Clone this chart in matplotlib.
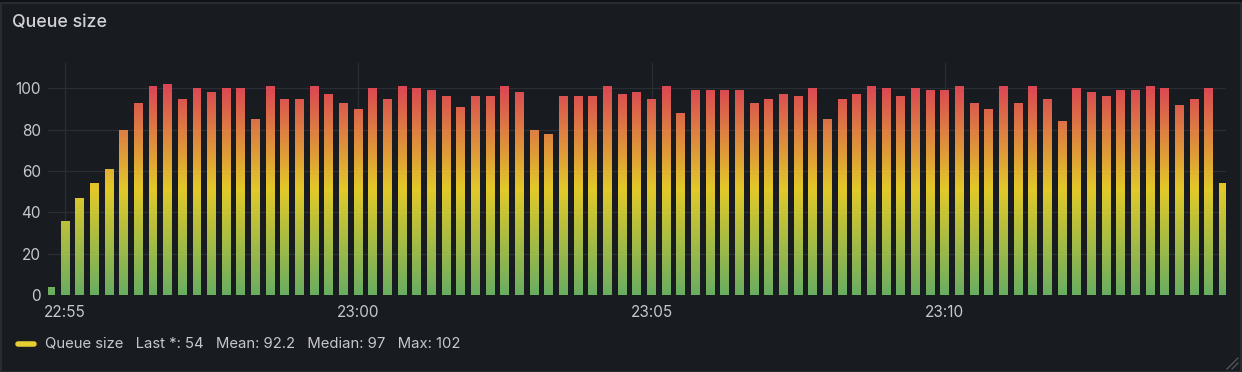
import numpy as np
import pandas as pd
import matplotlib
matplotlib.use("Agg")
import matplotlib.pyplot as plt
import matplotlib.dates as mdates
from matplotlib.colors import LinearSegmentedColormap, Normalize
from matplotlib.path import Path
from matplotlib.patches import Rectangle

plt.rcParams['font.family'] = ['Inter', 'DejaVu Sans']

# Data: one sample every 15 s starting 22:54:45
start_time = "2024-01-01 22:54:45"
queue_size = [4, 36, 47, 54, 61, 80, 93, 101, 102, 95,
              100, 98, 100, 100, 85, 101, 95, 95, 101, 97,
              93, 90, 100, 95, 101, 100, 99, 96, 91, 96,
              96, 101, 98, 80, 78, 96, 96, 96, 101, 97,
              98, 95, 101, 88, 99, 99, 99, 99, 93, 95,
              97, 96, 100, 85, 95, 97, 101, 100, 96, 100,
              99, 99, 101, 93, 90, 101, 93, 101, 95, 84,
              100, 98, 96, 99, 99, 101, 100, 92, 95, 100,
              54]
tick_times = ["2024-01-01 22:55", "2024-01-01 23:00", "2024-01-01 23:05", "2024-01-01 23:10"]
legend_label = "Queue size"
legend_stats = "Last *: 54   Mean: 92.2   Median: 97   Max: 102"

times = pd.date_range(start_time, periods=len(queue_size), freq="15s")
x = mdates.date2num(times.to_pydatetime())
sec = 1.0 / 86400

BG = "#181b1f"
TXT = "#c6c7d1"
GRID = "#2a2d33"

fig = plt.figure(figsize=(12.42, 3.72), dpi=100, facecolor="#111217")
# panel
fig.patches.append(Rectangle((0.5 / 1242, 0), 1 - 1.5 / 1242, 1 - 2.5 / 372,
                             transform=fig.transFigure, facecolor=BG,
                             edgecolor="#2c3036", lw=1.2, zorder=-10))

ax = fig.add_axes([48 / 1242, 1 - 295 / 372, (1226 - 48) / 1242, (295 - 63) / 372])
ax.set_facecolor(BG)

t0 = mdates.date2num(pd.Timestamp(tick_times[0]).to_pydatetime())
xlim = (t0 - 17.4 * sec, t0 + 1187.5 * sec)
ymax = 112.2

# bars (invisible) used as clip path for the value gradient
bars = ax.bar(x, queue_size, width=9.2 * sec, color="none", edgecolor="none")
paths = [b.get_path().transformed(b.get_patch_transform()) for b in bars]
clip = Path.make_compound_path(*paths)

cmap = LinearSegmentedColormap.from_list(
    "gyr", [(0.0, "#73bf69"), (0.5, "#fade2a"), (1.0, "#f2495c")])
grad = np.linspace(0, ymax, 400).reshape(-1, 1)
im = ax.imshow(grad, cmap=cmap, norm=Normalize(0, max(queue_size)), origin="lower",
               extent=[xlim[0], xlim[1], 0, ymax],
               aspect="auto", alpha=0.9, interpolation="bilinear", zorder=2)
im.set_clip_path(clip, ax.transData)
ax.set_xlim(*xlim)
ax.set_ylim(0, ymax)

ax.set_yticks([0, 20, 40, 60, 80, 100])
ax.set_xticks([mdates.date2num(pd.Timestamp(t).to_pydatetime()) for t in tick_times])
ax.xaxis.set_major_formatter(mdates.DateFormatter("%H:%M"))
ax.grid(True, color=GRID, lw=0.9, zorder=0)
ax.set_axisbelow(True)
for s in ax.spines.values():
    s.set_visible(False)
ax.tick_params(length=0, colors=TXT, labelsize=11)
ax.tick_params(axis="y", pad=5)
ax.tick_params(axis="x", pad=7)

# title
fig.text(12 / 1242, 1 - 22 / 372, "Queue size", color="#d0d1da", fontsize=12.8,
         fontweight="medium", va="center", ha="left")

# legend
fig.add_artist(plt.Line2D([18 / 1242, 34 / 1242], [1 - 344 / 372] * 2, color="#e6cd32",
                          lw=4, solid_capstyle="round", transform=fig.transFigure))
fig.text(45 / 1242, 1 - 344 / 372, legend_label + "   " + legend_stats, color=TXT,
         fontsize=10.7, va="center", ha="left")

# resize handle
for d in (6, 11):
    fig.add_artist(plt.Line2D([(1238 - d) / 1242, 1238 / 1242], [3 / 372, (3 + d) / 372],
                              color="#555961", lw=0.9, transform=fig.transFigure))

fig.savefig("out.png", dpi=100, facecolor=fig.get_facecolor())
